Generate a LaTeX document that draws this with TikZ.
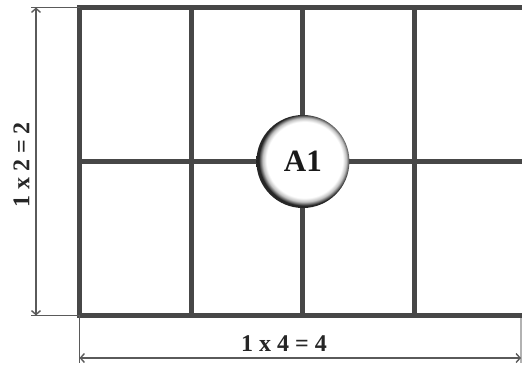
\documentclass[tikz,border=0pt]{standalone}
\usepackage{fontspec}
\setmainfont{Liberation Serif}
\usetikzlibrary{arrows.meta}
\definecolor{gridgray}{HTML}{474747}
\definecolor{dimgray}{HTML}{5A5A5A}
\pgfdeclareradialshading{ringshade}{\pgfpoint{1.5bp}{1.5bp}}{color(0bp)=(white); color(20.5bp)=(white); color(22.5bp)=(black!25); color(24.5bp)=(black!85); color(50bp)=(black!85)}
\begin{document}
\begin{tikzpicture}[x=1pt,y=-1pt,
  gridline/.style={line width=5pt, draw=gridgray},
  dimline/.style={line width=1.4pt, draw=dimgray},
  dimarrow/.style={dimline, {Straight Barb[length=4pt,width=9pt]}-{Straight Barb[length=4pt,width=9pt]}},
  lbl/.style={font=\bfseries\fontsize{24}{24}\selectfont, text=black!85, inner sep=0pt},
  hub/.style={circle, inner sep=0pt, minimum size=93pt, shade, shading=ringshade, font=\bfseries\fontsize{31}{31}\selectfont, text=black!90}]
\useasboundingbox (0,0) rectangle (522,365);
\fill[white] (0,0) rectangle (522,365);
% grid corners and lines
\coordinate (tl) at (79.5,7.5);
\coordinate (br) at (526,315.5);
\coordinate (ml) at (79.5,161.5);
\coordinate (mr) at (526,161.5);
\begin{scope}
\clip (0,0) rectangle (522,365);
\foreach \x in {191.2,302.9,414.6} \draw[gridline] (\x,7.5) -- (\x,315.5);
\draw[gridline] (ml) -- (mr);
\draw[gridline] (tl) rectangle (br);
\end{scope}
% centre marker
\node[hub] (a1) at (302.9,161.5) {A1};
% left dimension
\coordinate (lt) at (36,7.5);
\coordinate (lb) at (36,315.5);
\coordinate (lte) at (31,7.5);
\coordinate (lbe) at (31,315.5);
\coordinate (gbl) at (79.5,315.5);
\draw[dimline] (lte) -- (tl);
\draw[dimline] (lbe) -- (gbl);
\draw[dimarrow] (lt) -- (lb);
\node[lbl, rotate=90] (lh) at (21.5,165) {1 x 2 = 2};
% bottom dimension
\coordinate (bl) at (79.5,358);
\coordinate (bre) at (521,358);
\coordinate (ble) at (79.5,363);
\coordinate (rte) at (521,318);
\coordinate (rbe) at (521,363);
\draw[dimline] (gbl) -- (ble);
\draw[dimline, draw=black!30] (rte) -- (rbe);
\draw[dimarrow] (bl) -- (bre);
\node[lbl] (bw) at (284,344) {1 x 4 = 4};
\end{tikzpicture}
\end{document}
